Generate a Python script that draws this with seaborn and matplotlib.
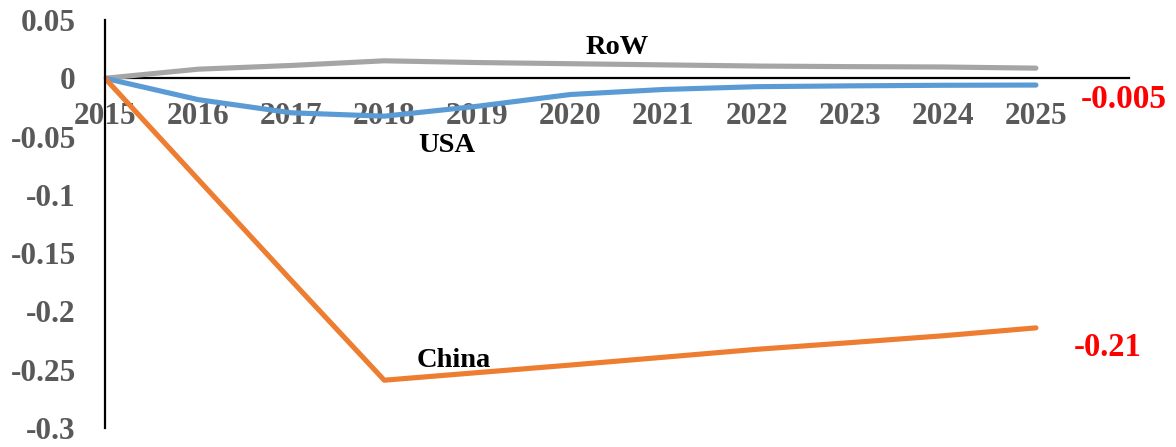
import matplotlib
matplotlib.use("Agg")
import matplotlib.pyplot as plt
import seaborn as sns
import pandas as pd

years = [2015, 2016, 2017, 2018, 2019, 2020, 2021, 2022, 2023, 2024, 2025]
row = [0.0, 0.0078, 0.011, 0.015, 0.0135, 0.0125, 0.0115, 0.0105, 0.0100, 0.0097, 0.0087]
usa = [0.0, -0.0183, -0.0296, -0.0325, -0.024, -0.0139, -0.0096, -0.0072, -0.0065, -0.006, -0.0058]
china = [0.0, -0.0867, -0.1733, -0.259, -0.2525, -0.246, -0.2393, -0.2325, -0.2268, -0.2209, -0.2141]

series_names = ["RoW", "USA", "China"]
series_colors = ["#A5A5A5", "#5B9BD5", "#ED7D31"]
ytick_values = [0.05, 0.0, -0.05, -0.1, -0.15, -0.2, -0.25, -0.3]
ytick_labels = ["0.05", "0", "-0.05", "-0.1", "-0.15", "-0.2", "-0.25", "-0.3"]
end_labels = ["-0.005", "-0.21"]

df = pd.DataFrame({
    "year": years * 3,
    "value": row + usa + china,
    "series": [series_names[0]] * len(years) + [series_names[1]] * len(years) + [series_names[2]] * len(years),
})

sns.set_theme(style="white")
plt.rcParams["font.family"] = ["Liberation Serif", "DejaVu Serif"]
plt.rcParams["font.weight"] = "bold"

fig = plt.figure(figsize=(11.76, 4.47), dpi=100)
ax = fig.add_axes([105 / 1176, 19 / 447, (1129 - 105) / 1176, (428 - 20) / 447])

sns.lineplot(data=df, x="year", y="value", hue="series", palette=dict(zip(series_names, series_colors)),
             linewidth=3.7, legend=False, ax=ax, solid_capstyle="round", sort=False)

ax.set_xlim(2015, 2026)
ax.set_ylim(-0.3, 0.05)
ax.set_xticks(years)
ax.set_xticklabels([str(y) for y in years])
ax.set_yticks(ytick_values)
ax.set_yticklabels(ytick_labels)
ax.set_xlabel("")
ax.set_ylabel("")

for s in ["top", "right"]:
    ax.spines[s].set_visible(False)
ax.spines["bottom"].set_position(("data", 0))
ax.spines["bottom"].set_color("black")
ax.spines["bottom"].set_linewidth(1.6)
ax.spines["left"].set_color("black")
ax.spines["left"].set_linewidth(1.6)
ax.spines["bottom"].set_zorder(1)

ax.tick_params(axis="both", length=0, labelsize=22.5, labelcolor="#595959")
ax.tick_params(axis="y", pad=21)
ax.tick_params(axis="x", pad=17)
for lab in ax.get_xticklabels() + ax.get_yticklabels():
    lab.set_fontweight("bold")

ax.text(2020.5, 0.0265, series_names[0], ha="center", va="center", fontsize=20.5, fontweight="bold", color="black")
ax.text(2018.67, -0.0575, series_names[1], ha="center", va="center", fontsize=20.5, fontweight="bold", color="black")
ax.text(2018.75, -0.242, series_names[2], ha="center", va="center", fontsize=20.5, fontweight="bold", color="black")

ax.text(2025.94, -0.018, end_labels[0], ha="center", va="center", fontsize=24, fontweight="bold", color="red", clip_on=False)
ax.text(2025.77, -0.231, end_labels[1], ha="center", va="center", fontsize=23.5, fontweight="bold", color="red", clip_on=False)

fig.savefig("out.png", dpi=100)
